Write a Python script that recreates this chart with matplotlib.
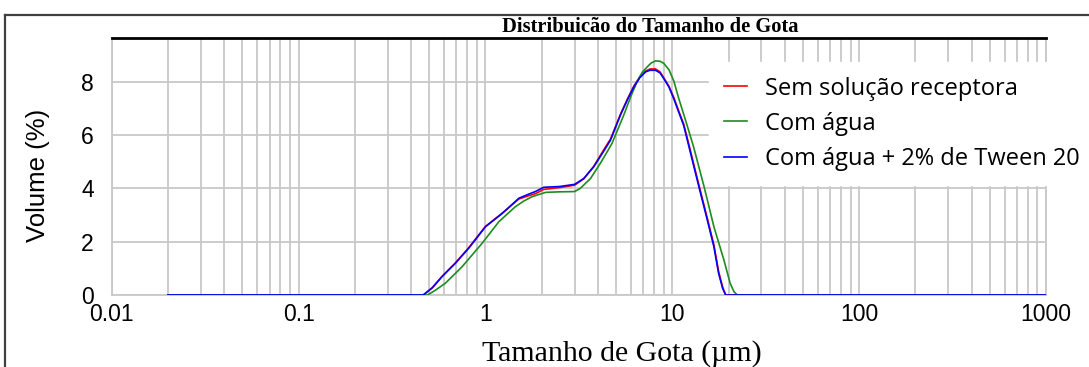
import matplotlib
matplotlib.use("Agg")
import matplotlib.pyplot as plt
from matplotlib.lines import Line2D
from matplotlib.ticker import LogLocator, NullFormatter

GRID = "#c8c8c8"
FRAME = "#404040"

# droplet size (um) and volume (%) for each sample
size_sem = [0.02, 0.465, 0.52, 0.586, 0.69, 0.813, 1.0, 1.23, 1.51, 1.7, 1.85, 2.05, 2.5,
            3.0, 3.36, 3.8, 4.3, 4.67, 5.28, 5.75, 6.23, 6.7, 7.2, 7.6, 8.13, 8.6, 9.0, 9.6,
            10.2, 10.8, 11.5, 12.0, 13.6, 15.4, 16.7, 17.7, 18.6, 19.3, 1000]
vol_sem = [0, 0, 0.28, 0.70, 1.20, 1.77, 2.57, 3.07, 3.60, 3.72, 3.80, 3.96, 4.03,
           4.12, 4.36, 4.83, 5.45, 5.85, 6.78, 7.35, 7.84, 8.18, 8.40, 8.48, 8.48, 8.37, 8.15, 7.83,
           7.40, 6.92, 6.42, 5.92, 4.38, 2.88, 1.88, 0.88, 0.30, 0, 0]

size_agua = [0.02, 0.49, 0.54, 0.61, 0.75, 0.96, 1.18, 1.445, 1.6, 1.78, 2.1, 2.5, 3.0,
             3.22, 3.65, 4.12, 4.48, 4.76, 5.5, 6.0, 6.48, 6.9, 7.35, 7.7, 8.13, 8.6, 9.0,
             9.6, 10.2, 10.8, 11.9, 13.0, 14.8, 16.7, 18.9, 20.4, 21.4, 22.3, 1000]
vol_agua = [0, 0, 0.18, 0.44, 1.06, 1.94, 2.75, 3.31, 3.52, 3.69, 3.85, 3.87, 3.88,
            4.0, 4.37, 4.94, 5.37, 5.69, 6.75, 7.45, 8.0, 8.35, 8.56, 8.70, 8.78, 8.77, 8.69,
            8.45, 8.02, 7.40, 6.45, 5.56, 4.06, 2.56, 1.31, 0.44, 0.12, 0, 0]

size_tween = [0.02, 0.465, 0.52, 0.586, 0.69, 0.813, 1.0, 1.23, 1.51, 1.7, 1.85, 2.05, 2.5,
              3.0, 3.36, 3.8, 4.3, 4.67, 5.28, 5.75, 6.23, 6.7, 7.2, 7.6, 8.13, 8.6, 9.0, 9.6,
              10.2, 10.8, 11.5, 12.0, 13.6, 15.4, 16.7, 17.7, 18.6, 19.3, 1000]
vol_tween = [0, 0, 0.27, 0.69, 1.19, 1.75, 2.56, 3.06, 3.63, 3.78, 3.88, 4.04, 4.07,
             4.15, 4.37, 4.81, 5.40, 5.81, 6.75, 7.32, 7.81, 8.15, 8.37, 8.43, 8.43, 8.33, 8.12, 7.80,
             7.35, 6.88, 6.37, 5.85, 4.31, 2.81, 1.81, 0.81, 0.25, 0, 0]

labels = ["Sem solução receptora", "Com água", "Com água + 2% de Tween 20"]
colors = ["#ff0000", "#1e8c1e", "#0000ff"]

x_ticks = [0.01, 0.1, 1, 10, 100, 1000]
x_ticklabels = ["0.01", "0.1", "1", "10", "100", "1000"]
y_ticks = [0, 2, 4, 6, 8]

fig = plt.figure(figsize=(10.89, 3.67), dpi=100, facecolor="white")
ax = fig.add_axes([0.1026, 0.1962, 0.8579, 0.6995])

series = [(size_sem, vol_sem), (size_agua, vol_agua), (size_tween, vol_tween)]
for (xs, ys), lab, col in zip(series, labels, colors):
    ax.plot(xs, ys, color=col, lw=1.2, label=lab, zorder=3)

ax.set_xscale("log")
ax.set_xlim(0.01, 1000)
ax.set_ylim(0, 9.63)
ax.set_xticks(x_ticks)
ax.set_xticklabels(x_ticklabels)
ax.xaxis.set_minor_locator(LogLocator(base=10, subs=range(2, 10), numticks=20))
ax.xaxis.set_minor_formatter(NullFormatter())
ax.set_yticks(y_ticks)

ax.grid(True, which="both", axis="x", color=GRID, lw=1.3)
ax.grid(True, which="major", axis="y", color=GRID, lw=1.3)
ax.set_axisbelow(True)
ax.tick_params(which="both", length=0)
ax.tick_params(axis="y", pad=13, labelsize=16.5)
ax.tick_params(axis="x", pad=6, labelsize=16.5)
for lbl in ax.get_xticklabels() + ax.get_yticklabels():
    lbl.set_family("Liberation Sans")

for side in ["left", "right", "bottom"]:
    ax.spines[side].set_color(GRID)
    ax.spines[side].set_linewidth(1.3)
ax.spines["top"].set_color("black")
ax.spines["top"].set_linewidth(2)

ax.set_xlabel("Tamanho de Gota (µm)", family="Liberation Serif", fontsize=21.5)
ax.xaxis.set_label_coords(0.546, -0.175)
ax.set_ylabel("Volume (%)", family="Liberation Sans", fontsize=18.5)
ax.yaxis.set_label_coords(-0.066, 0.467)

fig.text(650 / 1089, 1 - 27 / 367, "Distribuicão do Tamanho de Gota",
         family="Liberation Serif", weight="bold", fontsize=14.8, ha="center", va="center")

leg = ax.legend(loc="upper left", bbox_to_anchor=(709 / 1089, 1 - 62 / 367),
                bbox_transform=fig.transFigure, borderaxespad=0, borderpad=0.62,
                handlelength=1.0, handletextpad=0.76, labelspacing=0.47,
                frameon=True, fancybox=False, framealpha=1,
                prop={"family": "Open Sans", "size": 17})
leg.get_frame().set_edgecolor("white")
leg.get_frame().set_facecolor("white")
leg.set_zorder(5)

# outer frame: left and top edges
fig.add_artist(Line2D([5 / 1089, 5 / 1089], [0, 1 - 15 / 367], color=FRAME, lw=1.6))
fig.add_artist(Line2D([5 / 1089, 1], [1 - 15 / 367, 1 - 15 / 367], color=FRAME, lw=1.6))

fig.savefig("out.png", dpi=100, facecolor="white")
